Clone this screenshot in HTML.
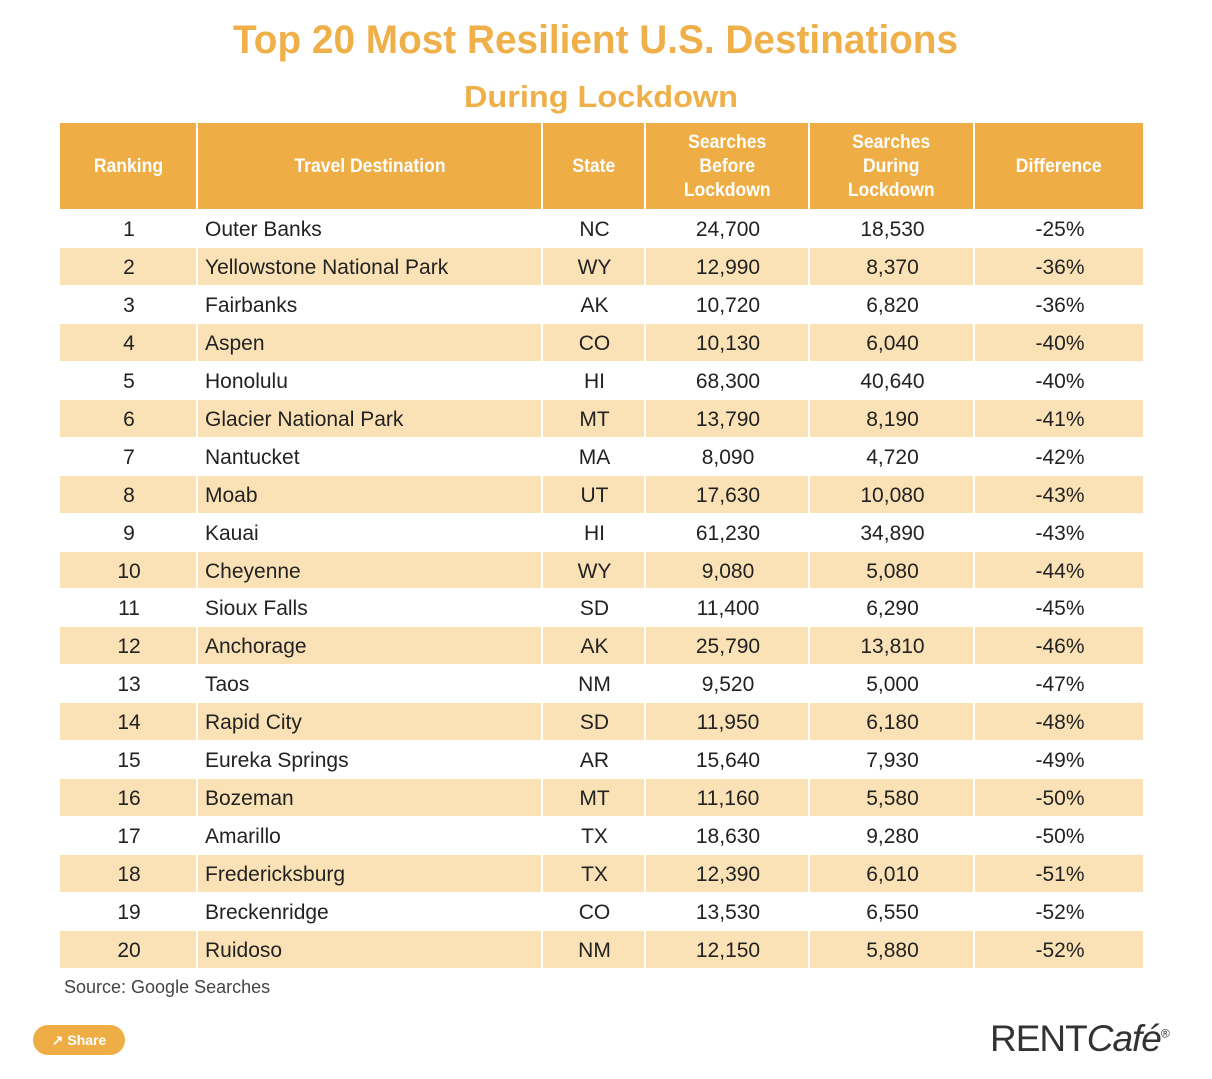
<!DOCTYPE html>
<html><head><meta charset="utf-8">
<style>
body{margin:0;width:1212px;height:1079px;background:#fff;position:relative;overflow:hidden;font-family:"Liberation Sans Narrow","Liberation Sans",sans-serif;}
.abs{position:absolute;}
.cell{position:absolute;display:flex;align-items:center;font-size:21px;color:#222;box-sizing:border-box;}
.hcell{position:absolute;display:flex;align-items:center;justify-content:center;text-align:center;font-size:19.5px;font-weight:bold;color:#fff;line-height:24px;background:#efae45;}
.hcell span{display:inline-block;transform:scaleX(0.9);}
</style></head><body>
<svg class="abs" style="left:0;top:0" width="1212" height="120">
<text x="233" y="53" textLength="725" lengthAdjust="spacingAndGlyphs" font-family="Liberation Sans, sans-serif" font-weight="bold" font-size="40" fill="#efb04a">Top 20 Most Resilient U.S. Destinations</text>
<text x="464" y="107" textLength="274" lengthAdjust="spacingAndGlyphs" font-family="Liberation Sans, sans-serif" font-weight="bold" font-size="31" fill="#efb04a">During Lockdown</text>
</svg>
<div id="table"></div>
<div class="abs" style="left:64px;top:977px;font-size:18px;color:#444;">Source: Google Searches</div>
<div class="abs" style="left:33px;top:1025px;width:92px;height:30px;border-radius:15px;background:#efae45;color:#fff;font-size:14px;display:flex;align-items:center;justify-content:center;font-weight:bold;">&#x2197;&nbsp;Share</div>
<div class="abs" style="left:990px;top:1018px;font-family:'Liberation Sans',sans-serif;font-size:37px;color:#333;letter-spacing:-1px;">RENT<i>Café</i><sup style="font-size:12px">®</sup></div>
<script>
const ranks=[1,2,3,4,5,6,7,8,9,10,11,12,13,14,15,16,17,18,19,20];
const destinations=["Outer Banks","Yellowstone National Park","Fairbanks","Aspen","Honolulu","Glacier National Park","Nantucket","Moab","Kauai","Cheyenne","Sioux Falls","Anchorage","Taos","Rapid City","Eureka Springs","Bozeman","Amarillo","Fredericksburg","Breckenridge","Ruidoso"];
const states=["NC","WY","AK","CO","HI","MT","MA","UT","HI","WY","SD","AK","NM","SD","AR","MT","TX","TX","CO","NM"];
const before=["24,700","12,990","10,720","10,130","68,300","13,790","8,090","17,630","61,230","9,080","11,400","25,790","9,520","11,950","15,640","11,160","18,630","12,390","13,530","12,150"];
const during=["18,530","8,370","6,820","6,040","40,640","8,190","4,720","10,080","34,890","5,080","6,290","13,810","5,000","6,180","7,930","5,580","9,280","6,010","6,550","5,880"];
const diffs=["-25%","-36%","-36%","-40%","-40%","-41%","-42%","-43%","-43%","-44%","-45%","-46%","-47%","-48%","-49%","-50%","-50%","-51%","-52%","-52%"];
const headers=["Ranking","Travel Destination","State","Searches<br>Before<br>Lockdown","Searches<br>During<br>Lockdown","Difference"];
const edges=[60,198,543,646,810,975,1143];
const t=document.getElementById('table');
const top0=123,hh=86,rh=37.95;
headers.forEach((h,i)=>{
  const d=document.createElement('div');d.className='hcell';
  
  
  d.style.left=edges[i]+'px';d.style.top=top0+'px';d.style.width=(edges[i+1]-edges[i]-(i<5?2:0))+'px';d.style.height=hh+'px';
  d.innerHTML='<span>'+h+'</span>';t.appendChild(d);
});
ranks.forEach((r,j)=>{
  const y=top0+hh+1+j*rh;
  const vals=[r,destinations[j],states[j],before[j],during[j],diffs[j]];
  vals.forEach((v,i)=>{
    const d=document.createElement('div');d.className='cell';
    
    
    d.style.left=edges[i]+'px';d.style.top=y+'px';d.style.width=(edges[i+1]-edges[i]-(i<5?2:0))+'px';d.style.height=(rh-1)+'px';
    d.style.background=j%2?'#fae2b6':'#fff';
    d.style.paddingTop='3px';
    if(i==1){d.style.paddingLeft='7px';}else{d.style.justifyContent='center';d.style.paddingLeft='2px';}
    d.textContent=v;t.appendChild(d);
  });
});
</script>
</body></html>
